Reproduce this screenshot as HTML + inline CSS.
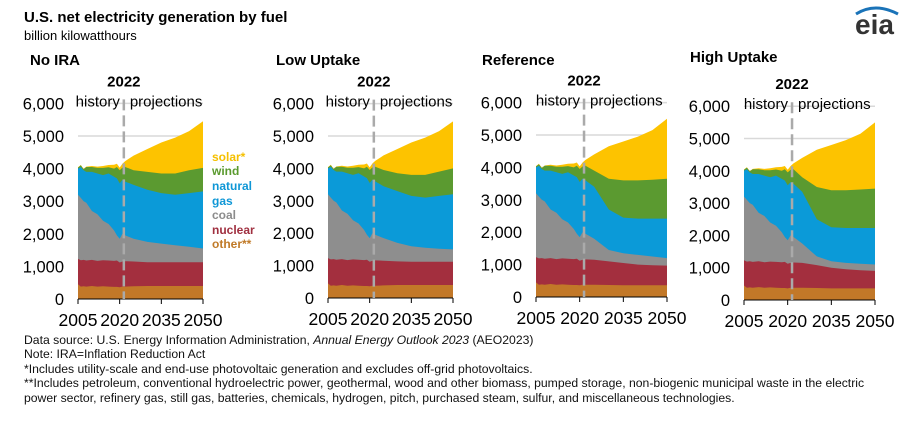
<!DOCTYPE html>
<html><head><meta charset="utf-8"><style>
body{margin:0;background:#fff;width:917px;height:426px;overflow:hidden;font-family:"Liberation Sans",Arial,sans-serif;}
svg text{font-family:"Liberation Sans",Arial,sans-serif;}
.foot{position:absolute;left:24px;font-size:12.2px;color:#111;line-height:14.4px;white-space:nowrap;}
</style></head><body>
<svg id="s" width="917" height="426" style="position:absolute;left:0;top:0">
<text x="24" y="22" font-size="15" font-weight="bold">U.S. net electricity generation by fuel</text>
<text x="24" y="40" font-size="13">billion kilowatthours</text>
<text x="855" y="34" font-size="28" fill="#333" font-weight="bold">eia</text>
<path d="M856 14 Q875 2 898 14" stroke="#1a73b8" stroke-width="3" fill="none"/>
<text x="30" y="65" font-size="15" font-weight="bold">No IRA</text>
<text x="276" y="65" font-size="15" font-weight="bold">Low Uptake</text>
<text x="482" y="65" font-size="15" font-weight="bold">Reference</text>
<text x="690" y="62" font-size="15" font-weight="bold">High Uptake</text>
<g font-size="12" font-weight="bold">
<text x="212" y="161" fill="#f5c000">solar*</text>
<text x="212" y="175" fill="#5a9a2e">wind</text>
<text x="212" y="190" fill="#0f97d6">natural</text>
<text x="212" y="205" fill="#0f97d6">gas</text>
<text x="212" y="219" fill="#8c8c8c">coal</text>
<text x="212" y="234" fill="#a03040">nuclear</text>
<text x="212" y="248" fill="#c07a28">other**</text>
</g>
</svg>
<div class="foot" style="top:333px">Data source: U.S. Energy Information Administration, <i>Annual Energy Outlook 2023</i> (AEO2023)<br>Note: IRA=Inflation Reduction Act<br>*Includes utility-scale and end-use photovoltaic generation and excludes off-grid photovoltaics.<br>**Includes petroleum, conventional hydroelectric power, geothermal, wood and other biomass, pumped storage, non-biogenic municipal waste in the electric<br>power sector, refinery gas, still gas, batteries, chemicals, hydrogen, pitch, purchased steam, sulfur, and miscellaneous technologies.</div>
<script>
var NS="http://www.w3.org/2000/svg",svg=document.getElementById('s');
function el(t,a,txt){var e=document.createElementNS(NS,t);for(var k in a)e.setAttribute(k,a[k]);if(txt!=null)e.textContent=txt;svg.appendChild(e);return e;}
var Y=[2005,2006,2007,2008,2010,2012,2014,2016,2018,2019,2020,2021,2022,2025,2030,2035,2040,2045,2050];
var hist={other:[450,380,390,380,400,380,390,380,370,370,360,380,380],
nuc:[1230,1190,1200,1180,1200,1170,1190,1180,1170,1180,1120,1150,1160],
coal:[3200,3100,3000,2950,2700,2600,2400,2300,2100,1950,1850,2000,1950],
gas:[4000,4050,3950,3900,3900,3850,3800,3850,3750,3700,3550,3650,3600],
wind:[4030,4100,3980,4050,4050,4020,4020,4040,4000,4050,3950,4030,4050],
solar:[4040,4110,3990,4060,4080,4060,4080,4110,4120,4150,4030,4150,4230]};
var proj={
a:{other:[390,400,400,400,400,400],nuc:[1150,1130,1130,1130,1130,1130],coal:[1850,1750,1700,1650,1600,1550],gas:[3500,3350,3250,3200,3250,3300],wind:[3950,3900,3850,3850,3950,4020],solar:[4400,4600,4800,4950,5150,5450]},
b:{other:[390,400,400,400,400,400],nuc:[1150,1130,1120,1120,1120,1120],coal:[1850,1700,1600,1550,1520,1500],gas:[3450,3300,3150,3100,3150,3200],wind:[3950,3850,3800,3800,3900,4000],solar:[4400,4600,4800,4950,5150,5450]},
c:{other:[380,370,360,360,360,360],nuc:[1150,1100,1050,1000,980,970],coal:[1800,1450,1350,1300,1250,1200],gas:[3400,2700,2450,2420,2420,2420],wind:[3900,3650,3600,3600,3620,3650],solar:[4400,4650,4800,4950,5150,5500]},
d:{other:[380,370,360,360,360,360],nuc:[1150,1080,1000,950,920,900],coal:[1750,1350,1200,1150,1120,1100],gas:[3350,2500,2250,2230,2230,2230],wind:[3800,3500,3400,3400,3420,3450],solar:[4400,4650,4800,4950,5150,5500]}};
var panels=[{k:'a',x0:78,x1:203,y0:299,u:32.6},{k:'b',x0:328,x1:453,y0:298,u:32.4},{k:'c',x0:536,x1:667,y0:297,u:32.4},{k:'d',x0:744,x1:875,y0:300,u:32.3}];
var layers=[['solar','#fdc300'],['wind','#5b9a30'],['gas','#0b9ad8'],['coal','#8e8e8e'],['nuc','#a32f3e'],['other','#c27828']];
panels.forEach(function(p){
 var sx=function(y){return p.x0+(y-2005)/45*(p.x1-p.x0)},sy=function(v){return p.y0-v/1000*p.u};
 for(var g=1;g<=6;g++)el('line',{x1:p.x0,x2:p.x1,y1:sy(g*1000),y2:sy(g*1000),stroke:'#d9d9d9','stroke-width':1.5});
 var pr=proj[p.k];
 layers.forEach(function(L){
  var v=hist[L[0]].concat(pr[L[0]]);
  var d='M'+sx(2005)+' '+p.y0;
  for(var i=0;i<Y.length;i++)d+=' L'+sx(Y[i]).toFixed(1)+' '+sy(v[i]).toFixed(1);
  d+=' L'+sx(2050)+' '+p.y0+'Z';
  el('path',{d:d,fill:L[1]});
 });
 el('line',{x1:p.x0,x2:p.x1,y1:p.y0,y2:p.y0,stroke:'#000','stroke-width':1});
 [2005,2020,2035,2050].forEach(function(y){el('line',{x1:sx(y),x2:sx(y),y1:p.y0,y2:p.y0+5,stroke:'#000'});
  el('text',{x:sx(y),y:p.y0+27,'font-size':17.5,'text-anchor':'middle'},''+y);});
 for(var g=0;g<=6;g++)el('text',{x:p.x0-14,y:sy(g*1000)+6,'font-size':16.5,'text-anchor':'end'},g==0?'0':g+',000');
 var xd=sx(2021.5);
 el('line',{x1:xd,x2:xd,y1:sy(6000)-4,y2:p.y0,stroke:'#aaa','stroke-width':2.5,'stroke-dasharray':'11,5'});
 el('text',{x:xd,y:sy(6000)-17,'font-size':15,'font-weight':'bold','text-anchor':'middle'},'2022');
 el('text',{x:xd-4,y:sy(6000)+3,'font-size':15,'text-anchor':'end'},'history');
 el('text',{x:xd+6,y:sy(6000)+3,'font-size':15},'projections');
});
</script>
</body></html>
